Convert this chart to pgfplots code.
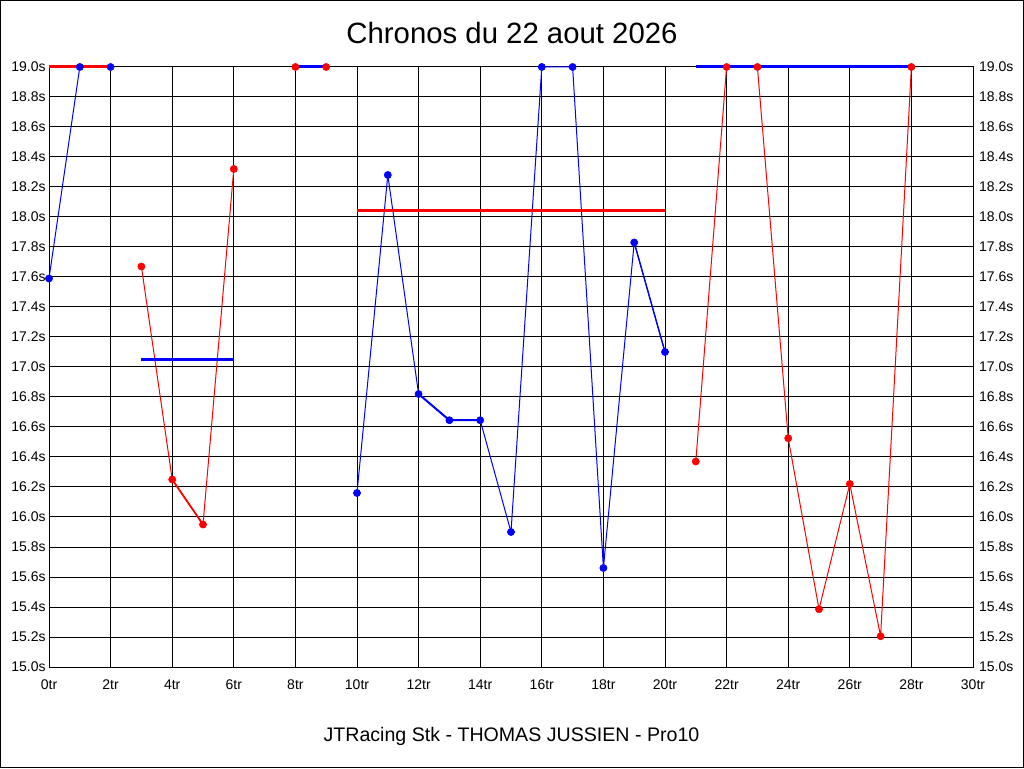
\documentclass[border=0pt]{standalone}
\usepackage{fontspec}
\setmainfont{Liberation Sans}
\usepackage{pgfplots}
\pgfplotsset{compat=1.18}
\definecolor{pblue}{RGB}{0,0,255}
\definecolor{pred}{RGB}{255,0,0}
\pgfplotstableread{
x y
0 17.59
1 19.0
2 19.0
}\stintA
\pgfplotstableread{
x y
3 17.67
4 16.25
5 15.95
6 18.32
}\stintB
\pgfplotstableread{
x y
8 19.0
9 19.0
}\stintC
\pgfplotstableread{
x y
10 16.16
11 18.28
12 16.82
13 16.645
14 16.645
15 15.90
16 19.0
17 19.0
18 15.66
19 17.83
20 17.10
}\stintD
\pgfplotstableread{
x y
21 16.37
22 19.0
23 19.0
24 16.525
25 15.385
26 16.22
27 15.205
28 19.0
}\stintE
\begin{document}
\begin{tikzpicture}[x=1pt,y=1pt]
\useasboundingbox (0,0) rectangle (768,576);
\fill[white] (0,0) rectangle (768,576);
\draw[black,line width=0.75pt] (0.375,0.375) rectangle (767.625,575.625);
\pgfplotsset{
  common/.style={
    at={(36.75pt,75.75pt)}, anchor=south west, scale only axis,
    width=693pt, height=450pt,
    xmin=0, xmax=30, ymin=15, ymax=19,
    ytick={15,15.2,15.4,15.6,15.8,16,16.2,16.4,16.6,16.8,17,17.2,17.4,17.6,17.8,18,18.2,18.4,18.6,18.8,19},
    yticklabel={\pgfmathprintnumber[fixed,fixed zerofill,precision=1]{\tick}s},
    major tick length=0pt,
    tick label style={font=\fontsize{10.5}{12}\selectfont},
    /pgf/number format/assume math mode=true,
    clip=false,
  }
}
\begin{axis}[common,
  xtick={0,2,...,30},
  xticklabel={\pgfmathprintnumber{\tick}tr},
  xticklabel style={yshift=-6pt},
  yticklabel style={xshift=1pt},
  grid=major,
  major grid style={black,line width=0.75pt},
  axis line style={black,line width=0.75pt},
]
% thin connecting lines
\addplot[pblue,line width=0.75pt,no markers] table {\stintA};
\addplot[pred,line width=0.75pt,no markers] table {\stintB};
\addplot[pred,line width=0.75pt,no markers] table {\stintC};
\addplot[pblue,line width=0.75pt,no markers] table {\stintD};
\addplot[pred,line width=0.75pt,no markers] table {\stintE};
% slightly heavier shallow segments
\addplot[pred,line width=1.3pt,no markers] coordinates {(4,16.25) (5,15.95)};
\addplot[pblue,line width=1.5pt,no markers] coordinates {(12,16.82) (13,16.645) (14,16.645)};
\addplot[pblue,line width=1pt,no markers] coordinates {(19,17.83) (20,17.10)};
% average lines
\addplot[pred,line width=2.25pt,no markers] coordinates {(0,19.0) (2,19.0)};
\addplot[pblue,line width=2.25pt,no markers] coordinates {(3,17.05) (6,17.05)};
\addplot[pblue,line width=2.25pt,no markers] coordinates {(8,19.0) (9,19.0)};
\addplot[pred,line width=2.25pt,no markers] coordinates {(10,18.045) (20,18.045)};
\addplot[pblue,line width=2.25pt,no markers] coordinates {(21,19.0) (28,19.0)};
% markers
\addplot[only marks,mark=*,mark size=2.7pt,pblue] table {\stintA};
\addplot[only marks,mark=*,mark size=2.7pt,pred] table {\stintB};
\addplot[only marks,mark=*,mark size=2.7pt,pred] table {\stintC};
\addplot[only marks,mark=*,mark size=2.7pt,pblue] table {\stintD};
\addplot[only marks,mark=*,mark size=2.7pt,pred] table {\stintE};
\end{axis}
\begin{axis}[common,
  hide x axis,
  axis y line*=right,
  axis line style={draw=none},
  yticklabel style={xshift=1pt},
]
\addplot[draw=none,no markers] coordinates {(0,15) (30,19)};
\end{axis}
\node[anchor=base,font=\fontsize{22}{26}\selectfont] at (384,543.5) {Chronos du 22 aout 2026};
\node[anchor=base,font=\fontsize{14.7}{17}\selectfont] at (383.6,19.75) {JTRacing Stk - THOMAS JUSSIEN - Pro10};
\end{tikzpicture}
\end{document}
